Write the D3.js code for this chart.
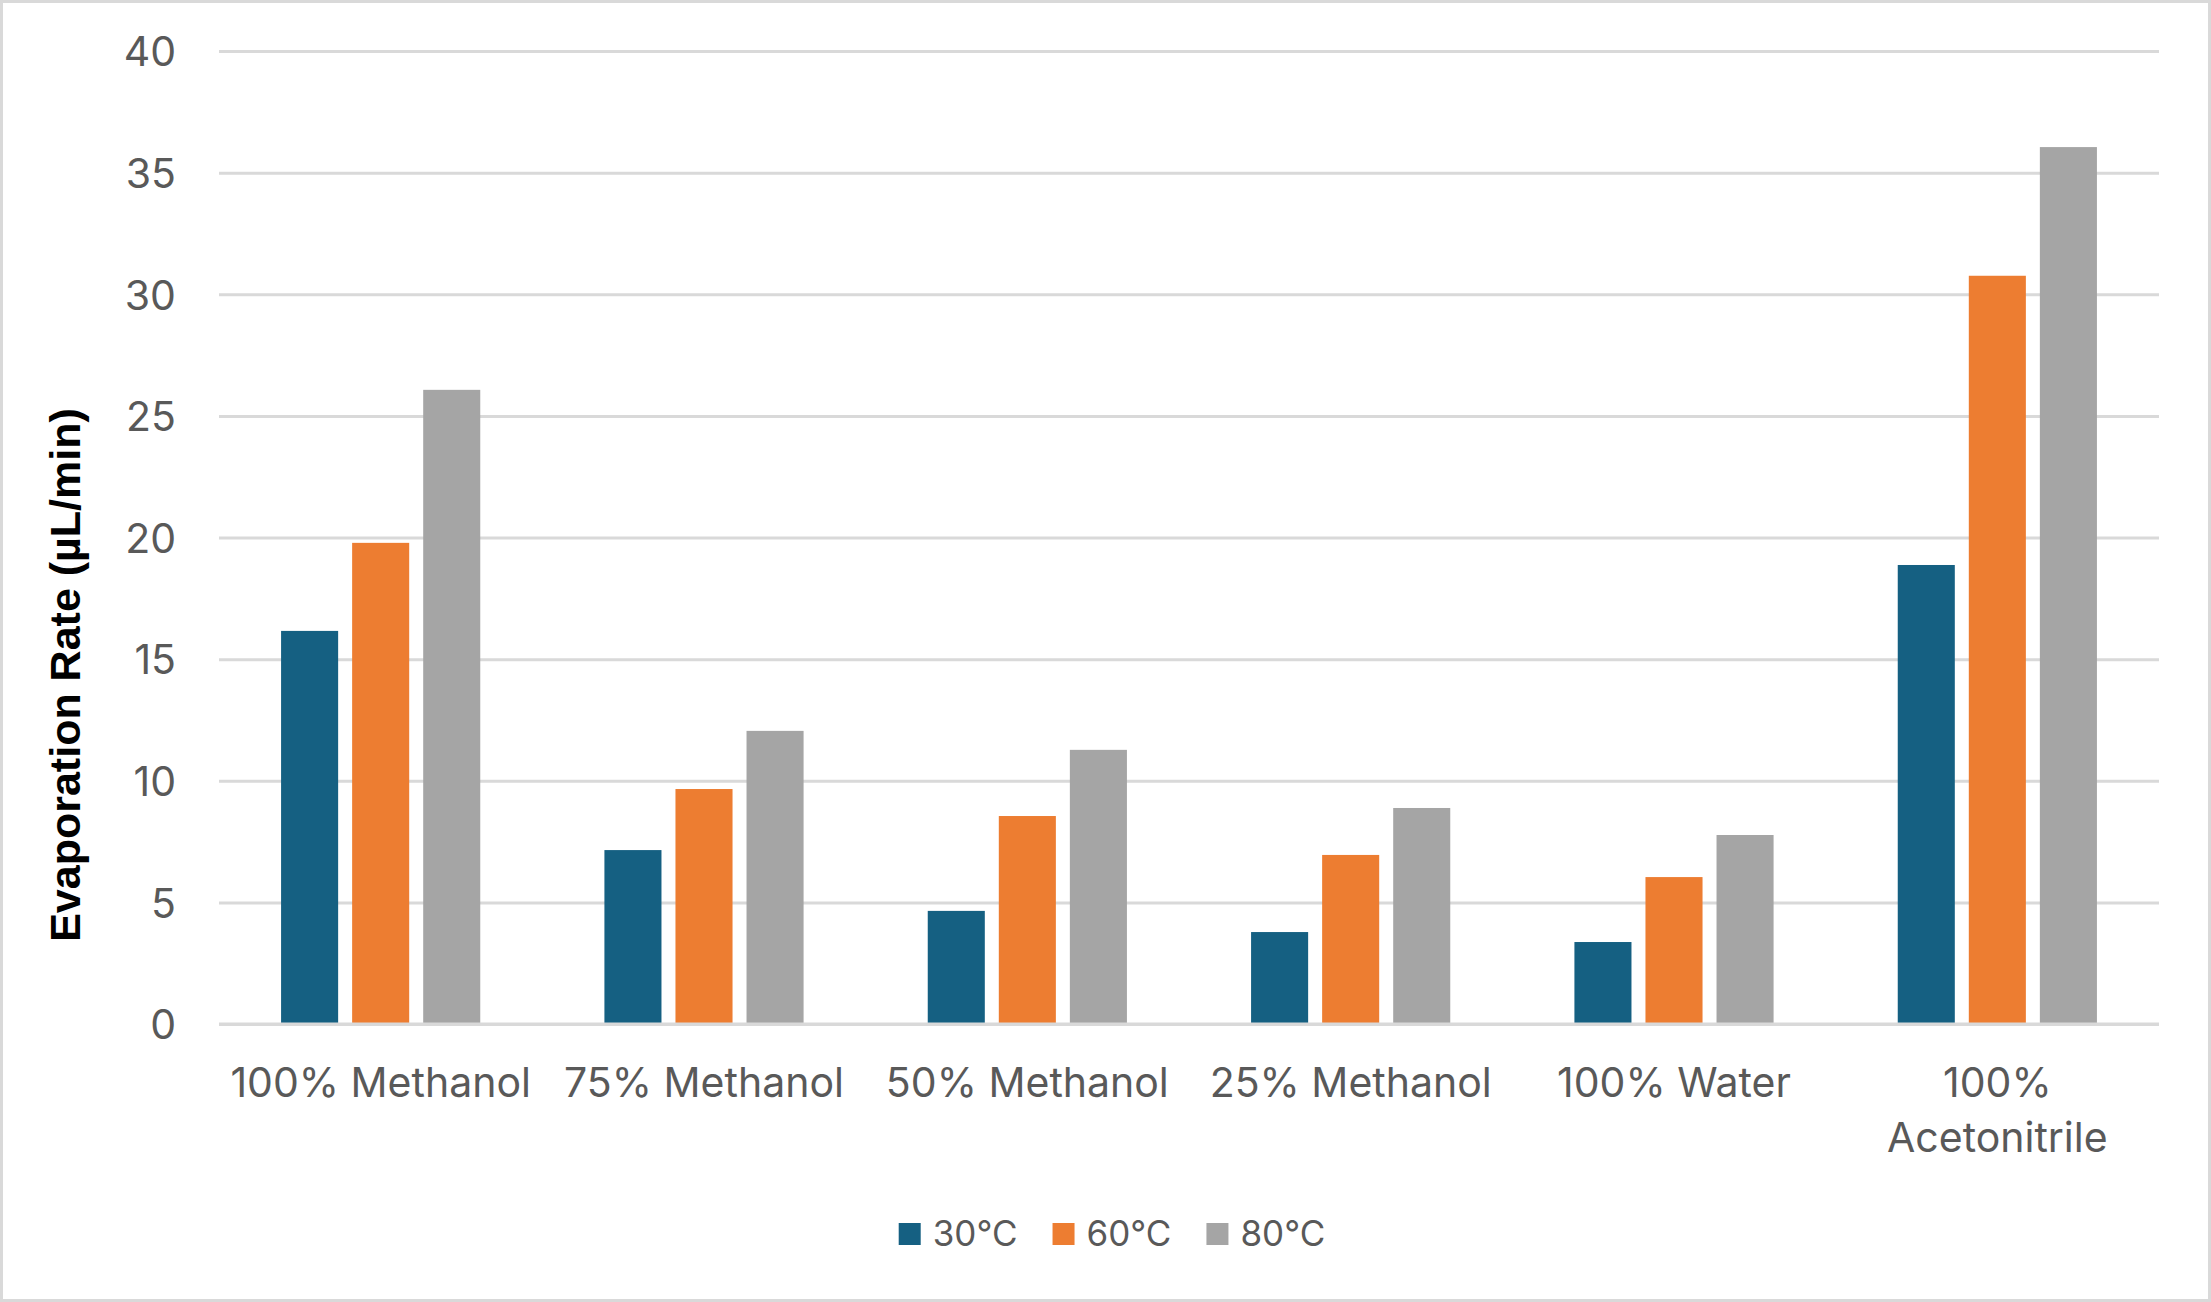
<!DOCTYPE html>
<html>
<head>
<meta charset="utf-8">
<script src="https://cdn.jsdelivr.net/npm/d3@7"></script>
<style>
  body { margin: 0; background: #fff; }
  svg { display: block; }
</style>
</head>
<body>
<div id="chart"></div>
<script>
// values
let categories = ['100% Methanol', '75% Methanol', '50% Methanol', '25% Methanol', '100% Water', '100% Acetonitrile'];
let series = ['30°C', '60°C', '80°C'];
let rate_30 = [16.16, 7.15, 4.65, 3.78, 3.37, 18.87];
let rate_60 = [19.78, 9.66, 8.55, 6.95, 6.04, 30.76];
let rate_80 = [26.07, 12.05, 11.27, 8.88, 7.77, 36.05];
let y_ticks = [0, 5, 10, 15, 20, 25, 30, 35, 40];
let colors = ['#156082', '#ED7D31', '#A5A5A5'];

let width = 2211, height = 1302;
let margin = {top: 51, right: 52, bottom: 278, left: 219};
let font = "Inter, 'Open Sans', sans-serif";

let svg = d3.select('#chart')
    .append('svg')
    .attr('width', width)
    .attr('height', height);

svg.append('rect')
    .attr('x', 1.5)
    .attr('y', 1.5)
    .attr('width', width - 3)
    .attr('height', height - 3)
    .attr('fill', '#fff')
    .attr('stroke', '#d9d9d9')
    .attr('stroke-width', 3);

let x = d3.scaleBand()
    .domain(categories)
    .range([margin.left, width - margin.right])
    .padding(0);

let groupW = x.step() * 0.616;
let xs = d3.scaleBand()
    .domain(series)
    .range([(x.step() - groupW) / 2, (x.step() + groupW) / 2])
    .paddingInner(0.197)
    .paddingOuter(0);

let y = d3.scaleLinear()
    .domain([0, 40])
    .range([height - margin.bottom, margin.top]);

// gridlines
let yAxis = d3.axisLeft(y)
    .tickValues(y_ticks)
    .tickSize(-(width - margin.left - margin.right))
    .tickPadding(43)
    .tickFormat(d3.format('d'));

let ga = svg.append('g')
    .attr('transform', `translate(${margin.left},0)`)
    .call(yAxis);
ga.select('.domain').remove();
ga.selectAll('.tick line')
    .attr('stroke', '#d9d9d9')
    .attr('stroke-width', 3);
ga.selectAll('.tick text')
    .attr('fill', '#595959')
    .attr('font-family', font)
    .attr('font-size', 41)
    .attr('dy', '0.36em');

let table = categories.map((c, i) => ({cat: c, vals: [rate_30[i], rate_60[i], rate_80[i]]}));

let groups = svg.append('g')
    .selectAll('g')
    .data(table)
    .join('g')
    .attr('transform', d => `translate(${x(d.cat)},0)`);

groups.selectAll('rect')
    .data(d => d.vals.map((v, j) => ({s: series[j], v: v, j: j})))
    .join('rect')
    .attr('x', d => xs(d.s))
    .attr('width', xs.bandwidth())
    .attr('y', d => y(d.v))
    .attr('height', d => y(0) - y(d.v))
    .attr('fill', d => colors[d.j]);

// baseline
svg.append('line')
    .attr('x1', margin.left)
    .attr('x2', width - margin.right)
    .attr('y1', y(0))
    .attr('y2', y(0))
    .attr('stroke', '#d9d9d9')
    .attr('stroke-width', 3);

// category labels, wrapped when wider than the band
let labels = svg.append('g')
    .attr('font-family', font)
    .attr('font-size', 41)
    .attr('fill', '#595959')
    .attr('text-anchor', 'middle');

categories.forEach(c => {
    let t = labels.append('text')
        .attr('x', x(c) + x.step() / 2)
        .attr('y', 1097)
        .text(c);
    if (t.node().getComputedTextLength() > x.step()) {
        let words = c.split(' ');
        t.text(null);
        words.forEach((w, k) => {
            t.append('tspan')
                .attr('x', x(c) + x.step() / 2)
                .attr('dy', k === 0 ? 0 : 55)
                .text(w);
        });
    }
});

// y axis title
svg.append('text')
    .attr('transform', 'translate(80,675) rotate(-90)')
    .attr('text-anchor', 'middle')
    .attr('font-family', "'Liberation Sans', Arial, sans-serif")
    .attr('font-weight', 'bold')
    .attr('font-size', 43)
    .attr('fill', '#000')
    .text('Evaporation Rate (µL/min)');

// legend
let legend = svg.append('g');
let items = legend.selectAll('g')
    .data(series)
    .join('g');
items.append('rect')
    .attr('width', 22)
    .attr('height', 22)
    .attr('y', 1223)
    .attr('fill', (d, i) => colors[i]);
items.append('text')
    .attr('x', 34)
    .attr('y', 1246)
    .attr('font-family', font)
    .attr('font-size', 35)
    .attr('fill', '#595959')
    .text(d => d);

let pos = 0, offs = [];
items.each(function () {
    offs.push(pos);
    pos += 34 + d3.select(this).select('text').node().getComputedTextLength() + 35;
});
let total = pos - 35;
let start = 1112 - total / 2;
items.attr('transform', (d, i) => `translate(${start + offs[i]},0)`);
</script>
</body>
</html>
